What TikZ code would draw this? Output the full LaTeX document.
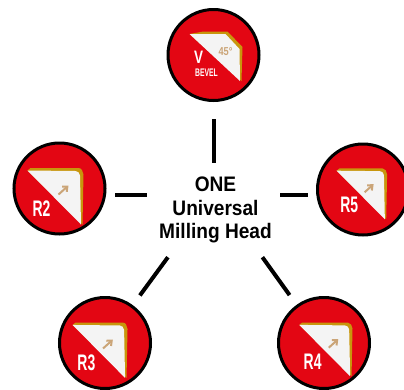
\documentclass[tikz,border=0pt]{standalone}
\usepackage{fontspec}
\setmainfont{Liberation Sans}
\usetikzlibrary{positioning,calc,arrows.meta}
\definecolor{badgered}{HTML}{E30613}
\definecolor{bevelgold}{HTML}{C8960C}
\definecolor{arrowtan}{HTML}{CBA578}
\definecolor{facewhite}{HTML}{F4F4F4}
\tikzset{
    badge/.style={circle, draw=black, line width=3pt, fill=badgered, minimum size=91pt, inner sep=0pt},
    hubtext/.style={minimum width=133pt, minimum height=94pt, inner sep=0pt, align=center},
    spoke/.style={line width=4pt},
    radlabel/.style={text=white, font=\bfseries\fontsize{22.5pt}{22.5pt}\selectfont, xscale=0.62, inner sep=0pt},
}
% one face of a bevel, drawn round a point of a badge
\newcommand{\radface}[4]{
    \begin{scope}[shift={(#1)}, scale=#2]
        \fill[bevelgold] (-32,-18) -- (-29,-20.5) -- (19,-20.5) to[out=0,in=100] (24,-14) -- (23,36) -- cycle;
        \fill[facewhite] (-32,-18) -- (16,-17.5) to[out=0,in=100] (20.5,-13) -- (21.5,36) -- cycle;
        \draw[arrowtan, line width=2pt, -{Straight Barb[length=4pt,width=7pt]}] (-1,6) -- (9,-3);
        \node[radlabel] (#3) at (-18,20.5) {#4};
    \end{scope}
}
\begin{document}
\begin{tikzpicture}[x=1pt, y=-1pt]
    \useasboundingbox (0,0) rectangle (404,389);
    \clip (0,0) rectangle (404,389);

    % Badges
    \node[badge] (vbevel) at (213.5,55) {};
    \node[badge] (rtwo) at (59.5,188.5) {};
    \node[badge] (rthree) at (105,343) {};
    \node[badge] (rfour) at (324,343) {};
    \node[badge] (rfive) at (363,189.5) {};

    % Faces
    \radface{59.5,188.5}{1}{ltwo}{R2}
    \radface{104,342.6}{0.98}{lthree}{R3}
    \radface{329.7,342}{0.95}{lfour}{R4}
    \radface{365.5,186.9}{0.9}{lfive}{R5}

    % V bevel
    \begin{scope}[shift={(213.5,55)}]
        \fill[bevelgold] (-24,-21) -- (-10,-23.5) -- (14,-23.5) -- (29,-8) -- (28,26) -- cycle;
        \fill[facewhite] (-24,-21) -- (12,-21) -- (26,-6) -- (26.5,26) -- cycle;
        \node[text=arrowtan, font=\bfseries\fontsize{11.5pt}{11.5pt}\selectfont, xscale=0.8, inner sep=0pt] (angle) at (12,-3) {45°};
        \node[text=white, font=\bfseries\fontsize{18pt}{18pt}\selectfont, xscale=0.75, inner sep=0pt] (vmark) at (-15,2) {V};
        \node[text=white, font=\bfseries\fontsize{11pt}{11pt}\selectfont, xscale=0.62, inner sep=0pt] (vword) at (-7,18) {BEVEL};
    \end{scope}

    % Hub
    \node[hubtext] (hub) at (213.5,210) {};
    \node[font=\bfseries\fontsize{21pt}{23.5pt}\selectfont, align=center, xscale=0.91, inner sep=0pt] (title) at (215.5,210) {ONE\\Universal\\Milling Head};

    % Spokes
    \draw[spoke, shorten >=17pt] (hub.north) -- (vbevel);
    \draw[spoke, shorten >=8pt] (hub.167) -- (hub.167 -| rtwo.east);
    \draw[spoke, shorten >=8pt] (hub.13) -- (hub.13 -| rfive.west);
    \draw[spoke, shorten >=12pt] (hub.226) -- (rthree);
    \draw[spoke, shorten >=12pt] (hub.316) -- (rfour);
\end{tikzpicture}
\end{document}
